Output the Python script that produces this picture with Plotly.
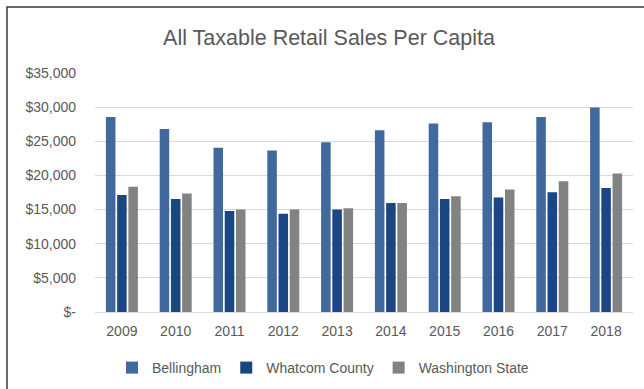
import plotly.graph_objects as go

years = ["2009", "2010", "2011", "2012", "2013", "2014", "2015", "2016", "2017", "2018"]
bellingham = [28550, 26800, 24050, 23650, 24850, 26600, 27600, 27800, 28550, 29950]
whatcom = [17150, 16550, 14800, 14400, 15000, 15950, 16550, 16750, 17550, 18150]
washington = [18350, 17350, 15000, 15000, 15200, 15950, 16950, 17950, 19150, 20300]

y_tickvals = [0, 5000, 10000, 15000, 20000, 25000, 30000, 35000]
y_ticktext = ["$-", "$5,000", "$10,000", "$15,000", "$20,000", "$25,000", "$30,000", "$35,000"]

series = [
    ("Bellingham", bellingham, "#41699E"),
    ("Whatcom County", whatcom, "#1C4583"),
    ("Washington State", washington, "#828282"),
]

W, H = 644, 389
L, R, T, B = 95, 11, 73, 77
pw, ph = W - L - R, H - T - B

fig = go.Figure()
for name, vals, color in series:
    fig.add_trace(go.Bar(x=years, y=vals, name=name, marker=dict(color=color, line=dict(width=0))))

font = "Liberation Sans, Arial, sans-serif"
txt = "#595959"

def px_x(x):
    return (x - L) / pw

def px_y(y):
    return (H - B - y) / ph

fig.update_layout(
    width=W, height=H,
    margin=dict(l=L, r=R, t=T, b=B),
    paper_bgcolor="white", plot_bgcolor="white",
    barmode="group", bargap=0.374, bargroupgap=0.15,
    title=dict(
        text="All Taxable Retail Sales Per Capita",
        font=dict(family=font, size=21.5, color=txt),
        x=329 / W, xref="container", xanchor="center",
        y=1 - 37 / H, yref="container", yanchor="middle",
    ),
    xaxis=dict(
        showgrid=False, showline=True, linecolor="#D9D9D9", linewidth=1,
        ticks="", tickfont=dict(family=font, size=14, color=txt),
        ticklabelstandoff=6,
    ),
    yaxis=dict(
        range=[0, 35000], tickvals=y_tickvals, ticktext=y_ticktext,
        showgrid=True, gridcolor="#D9D9D9", gridwidth=1,
        zeroline=False, showline=False, ticks="",
        tickfont=dict(family=font, size=14, color=txt),
        ticklabelstandoff=18,
    ),
    legend=dict(
        orientation="h", x=323 / W, xref="container", xanchor="center",
        y=1 - 368 / H, yref="container", yanchor="middle",
        font=dict(family=font, size=14, color=txt),
        itemwidth=30, traceorder="normal",
    ),
    showlegend=True,
    shapes=[
        dict(
            type="rect", xref="paper", yref="paper",
            x0=px_x(7), x1=px_x(W + 20), y0=px_y(H + 20), y1=px_y(7),
            line=dict(color="#3A3A3A", width=1.5), fillcolor="rgba(0,0,0,0)",
            layer="below",
        )
    ],
)

fig.write_html("out.html")
